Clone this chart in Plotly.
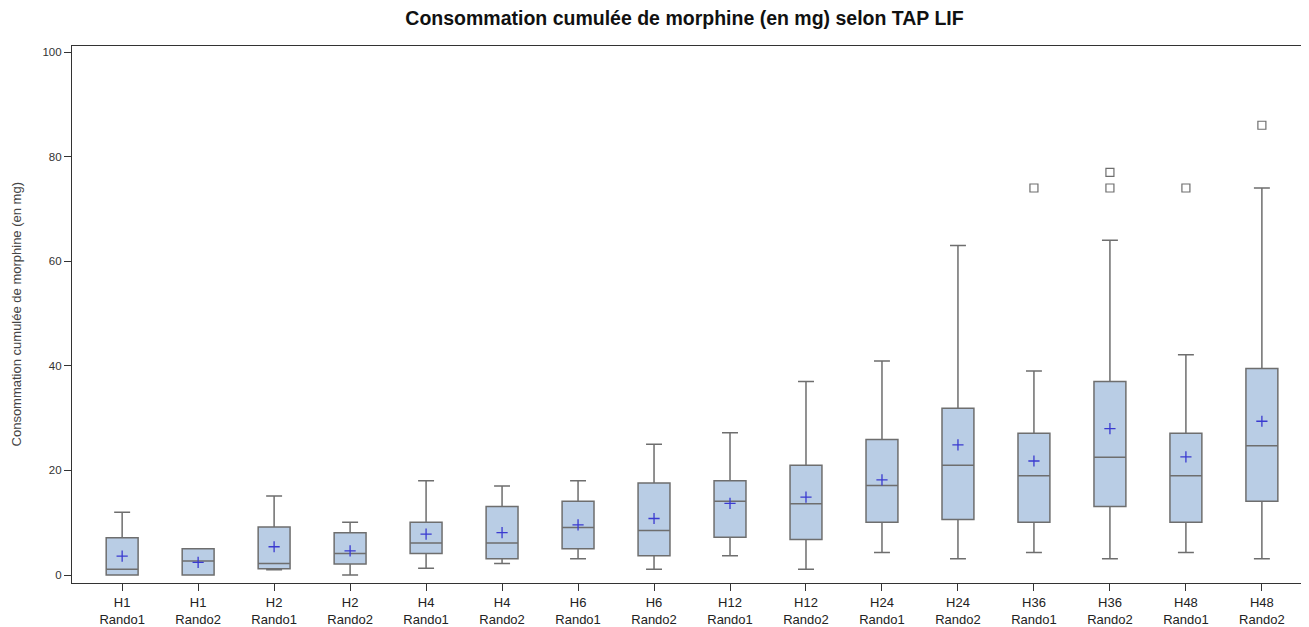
import plotly.graph_objects as go

heures = ["H1", "H1", "H2", "H2", "H4", "H4", "H6", "H6",
          "H12", "H12", "H24", "H24", "H36", "H36", "H48", "H48"]
bras = ["Rando1", "Rando2"] * 8
categories = [f"{h}<br>{b}" for h, b in zip(heures, bras)]

lower = [0, 0, 1.0, 0, 1.3, 2.2, 3.1, 1.1, 3.7, 1.1, 4.3, 3.1, 4.3, 3.1, 4.3, 3.1]
q1 = [0, 0, 1.2, 2.1, 4.1, 3.1, 5.0, 3.7, 7.2, 6.8, 10.1, 10.6, 10.1, 13.1, 10.1, 14.1]
median = [1.1, 2.7, 2.2, 4.1, 6.1, 6.1, 9.1, 8.5, 14.1, 13.6, 17.1, 21.0, 19.0, 22.5, 19.0, 24.7]
q3 = [7.1, 5.0, 9.2, 8.1, 10.1, 13.1, 14.1, 17.6, 18.0, 21.0, 25.9, 31.9, 27.1, 37.0, 27.1, 39.5]
upper = [12.0, 5.0, 15.1, 10.1, 18.0, 17.0, 18.0, 25.0, 27.2, 37.0, 40.9, 63.0, 39.0, 64.0, 42.1, 74.0]
mean = [3.6, 2.4, 5.4, 4.6, 7.8, 8.1, 9.6, 10.8, 13.7, 14.9, 18.2, 24.9, 21.8, 28.0, 22.6, 29.4]

outlier_cat = ["H36<br>Rando1", "H36<br>Rando2", "H36<br>Rando2", "H48<br>Rando1", "H48<br>Rando2"]
outlier_val = [74, 74, 77, 74, 86]

y_title = "Consommation cumulée de morphine (en mg)"

fig = go.Figure()
fig.add_trace(go.Box(
    x=categories, q1=q1, median=median, q3=q3,
    lowerfence=lower, upperfence=upper,
    width=0.42, whiskerwidth=0.5,
    fillcolor="#b9cde5", line=dict(color="#6e6e6e", width=1.5),
    boxpoints=False, showlegend=False, hoverinfo="skip",
))
fig.add_trace(go.Scatter(
    x=categories, y=mean, mode="markers",
    marker=dict(symbol="cross-thin", size=8, line=dict(color="#3a3ad0", width=1.3)),
    showlegend=False,
))
fig.add_trace(go.Scatter(
    x=outlier_cat, y=outlier_val, mode="markers",
    marker=dict(symbol="square-open", size=8, color="#6e6e6e", line=dict(width=1.2)),
    showlegend=False,
))

fig.update_layout(
    width=1301, height=619,
    margin=dict(l=64, r=0, t=38, b=44),
    paper_bgcolor="white", plot_bgcolor="white",
    font=dict(family="Liberation Sans, Arial, sans-serif", color="#333333", size=11),
    title=dict(text="<b>Consommation cumulée de morphine (en mg) selon TAP LIF</b>",
               x=0.520, xanchor="center", y=0.984, yanchor="middle",
               font=dict(size=19.5, color="#111111")),
    annotations=[dict(text=y_title, textangle=-90, xref="paper", yref="paper",
                      x=-0.0445, y=0.5, xanchor="center", yanchor="middle",
                      showarrow=False, font=dict(size=13, color="#444444"))],
)
fig.update_xaxes(
    type="category", categoryorder="array", categoryarray=categories,
    range=[-0.66, 15.62],
    showline=True, linecolor="#333333", linewidth=1.2, mirror=True,
    ticks="outside", ticklen=7, tickcolor="#333333",
    showgrid=False, zeroline=False, tickfont=dict(size=13, color="#222222"),
)
fig.update_yaxes(
    range=[-1.53, 101.15], tickvals=[0, 20, 40, 60, 80, 100],
    showline=True, linecolor="#333333", linewidth=1.2, mirror=True,
    ticks="outside", ticklen=7, tickcolor="#333333",
    showgrid=False, zeroline=False, tickfont=dict(size=11.5, color="#333333"),
)

fig.write_html("out.html")
